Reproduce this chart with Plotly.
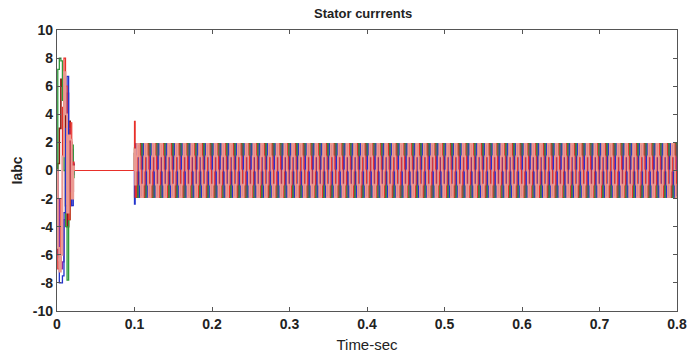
import numpy as np
import plotly.graph_objects as go

# ---- data ----
names = ["ic2", "ib2", "ib1", "ic1", "ia1", "ia2"]
colors = ["#8b1a10", "#8a2aa8", "#2e9a3a", "#2233cc", "#e8302a", "#ec9a92"]
widths = [1.6, 1.3, 1.3, 1.3, 1.2, 1.8]

# start-up transient (0 .. 0.022 s): time points and currents per phase
trans_t = [0.0, 0.001, 0.003, 0.005, 0.007, 0.009, 0.011, 0.013, 0.015, 0.017, 0.019, 0.021, 0.022]
trans_i = [
    [0.0, 0.5, 3.0, 6.5, 6.0, 4.0, -2.5, -4.0, 3.5, 2.0, -1.5, 0.4, 0.0],
    [0.0, -2.0, -6.2, -7.0, -6.5, -3.5, 2.5, 5.5, 3.0, -2.5, 1.5, -0.3, 0.0],
    [0.0, 7.2, 8.0, 7.8, 5.0, 0.0, -4.0, -7.8, -3.5, 1.2, 1.8, -0.5, 0.0],
    [0.0, -6.0, -8.0, -8.0, -7.5, -3.0, 3.0, 6.7, 2.0, -1.5, -2.5, 0.5, 0.0],
    [0.0, -7.0, -6.5, -2.0, 4.5, 8.0, 6.0, 2.0, -3.5, 3.4, -1.0, 0.6, 0.0],
    [0.0, -5.5, -7.2, -6.0, 1.0, 7.0, 4.0, -3.0, 2.5, 2.2, -2.0, 0.3, 0.0],
]
zero_end = 0.1                      # currents stay at zero until 0.1 s
zero_line_trace = 4                 # the trace visible along zero in 0.02..0.1 s
start_kick = [1.2, -1.9, 1.6, -2.4, 3.5, 1.5]   # first samples after reconnection

# steady state: one period of the six-step current (12 samples), 70 periods to 0.8 s
period = 0.01
n_periods = 70
step_pattern = [0.0, 1.0, 1.9, 1.9, 1.9, 1.0, 0.0, -1.0, -1.9, -1.9, -1.9, -1.0]
phase_shift = [6, 2, 4, 0, 8, 10]   # sample offsets for each phase

yticks = [-10, -8, -6, -4, -2, 0, 2, 4, 6, 8, 10]
xticks = [0, 0.1, 0.2, 0.3, 0.4, 0.5, 0.6, 0.7, 0.8]

fig = go.Figure()
n_s = len(step_pattern)
ss_t = [zero_end + k * period / n_s for k in range(n_periods * n_s + 1)]
for p in range(6):
    pat = step_pattern[phase_shift[p]:] + step_pattern[:phase_shift[p]]
    ss_i = (pat * n_periods) + [pat[0]]
    ss_i[0] = start_kick[p]
    if p == zero_line_trace:
        t = list(trans_t) + [zero_end] + ss_t
        i = list(trans_i[p]) + [0.0] + ss_i
    else:
        t = list(trans_t) + [None, zero_end] + ss_t
        i = list(trans_i[p]) + [None, 0.0] + ss_i
    fig.add_trace(go.Scatter(x=t, y=i, mode="lines", name=names[p],
                             line=dict(color=colors[p], width=widths[p], shape="hv"),
                             showlegend=False, connectgaps=False))

axis_common = dict(showline=True, linecolor="#555555", linewidth=1.2, mirror="ticks",
                   ticks="inside", ticklen=4, tickcolor="#555555", showgrid=False,
                   zeroline=False, automargin=False,
                   tickfont=dict(family="Liberation Sans", size=14, color="#222222"))

fig.update_layout(
    width=689, height=359, paper_bgcolor="white", plot_bgcolor="white",
    margin=dict(l=57, r=12, t=30, b=48),
    title=dict(text="<b>Stator currrents</b>", x=0.527, xanchor="center", y=0.963, yanchor="middle",
               font=dict(family="Liberation Sans", size=13, color="#222222")),
    xaxis=dict(range=[0, 0.8], tickvals=xticks, ticktext=[f"<b>{v:g}</b>" for v in xticks],
               title=dict(text="Time-sec", standoff=8,
                          font=dict(family="Liberation Sans", size=15, color="#222222")),
               **axis_common),
    yaxis=dict(range=[-10, 10], tickvals=yticks, ticktext=[f"<b>{v}</b>" for v in yticks],
               title=dict(text="<b>Iabc</b>", standoff=6,
                          font=dict(family="Liberation Sans", size=14, color="#222222")),
               **axis_common),
)

fig.write_html("out.html")
